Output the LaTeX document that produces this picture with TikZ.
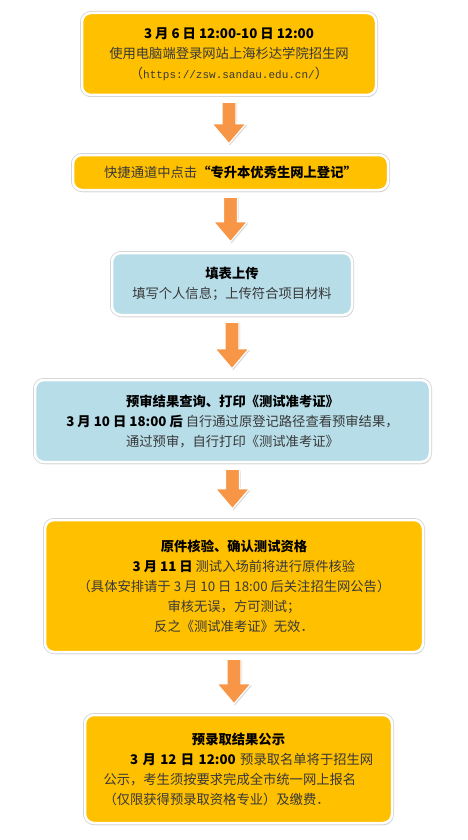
\documentclass[tikz,border=0pt]{standalone}
\usepackage{fontspec}
\setmainfont{Noto Sans CJK SC}
\newfontfamily\urlfont{Liberation Mono}
\usepackage{tikz}
\usetikzlibrary{calc, shadows}
\definecolor{boxyellow}{HTML}{FFC000}
\definecolor{boxblue}{HTML}{B7DDE8}
\definecolor{arroworange}{HTML}{F79646}
\definecolor{bodytext}{HTML}{383838}

\newcommand{\flowarrow}[2]{%
  \path[downarrow] let \p1 = (#1.south), \p2 = (#2.north) in
    (\x1-7pt, \y1-6pt) -- (\x1+7pt, \y1-6pt) -- (\x1+7pt, \y2+30pt)
    -- (\x1+17pt, \y2+30pt) -- (\x1, \y2+10pt) -- (\x1-17pt, \y2+30pt)
    -- (\x1-7pt, \y2+30pt) -- cycle;}

\begin{document}
\begin{tikzpicture}[x=1pt, y=-1pt,
    box/.style={rounded corners=9pt, draw=white, line width=2.5pt,
      drop shadow={shadow xshift=1pt, shadow yshift=-2pt, fill=black!40, opacity=0.5},
      preaction={draw=black!18, line width=4pt},
      align=center, inner sep=0pt, text=bodytext,
      font=\fontsize{13.3}{20}\selectfont},
    downarrow/.style={fill=arroworange, draw=white, line width=1.2pt, line join=miter,
      drop shadow={shadow xshift=1pt, shadow yshift=-1.5pt, fill=black!40, opacity=0.4}}]
    \useasboundingbox[fill=white] (0,0) rectangle (468,840);
    \node[box, fill=boxyellow, minimum width=294pt, minimum height=82pt] (b1) at (229,54)
      {\textcolor{black}{\textbf{3 月 6 日 12:00-10 日 12:00}}\\
       使用电脑端登录网站上海杉达学院招生网\\
       （{\urlfont\fontsize{11}{20}\selectfont https://zsw.sandau.edu.cn/}）};
    \node[box, fill=boxyellow, minimum width=315pt, minimum height=35pt] (b2) at (230.5,172.5)
      {快捷通道中点击\textcolor{black}{\textbf{“专升本优秀生网上登记”}}};
    \node[box, fill=boxblue, minimum width=240pt, minimum height=62pt] (b3) at (232,284)
      {\textcolor{black}{\textbf{填表上传}}\\
       填写个人信息；上传符合项目材料};
    \node[box, fill=boxblue, minimum width=395pt, minimum height=82pt] (b4) at (232.5,421)
      {\textcolor{black}{\textbf{预审结果查询、打印《测试准考证》}}\\
       \textcolor{black}{\textbf{3 月 10 日 18:00 后}} 自行通过原登记路径查看预审结果，\\
       通过预审，自行打印《测试准考证》};
    \node[box, fill=boxyellow, minimum width=378pt, minimum height=132pt] (b5) at (234,586)
      {\textcolor{black}{\textbf{原件核验、确认测试资格}}\\
       \hspace*{1.5em}\textcolor{black}{\textbf{3 月 11 日}} 测试入场前将进行原件核验\\
       （具体安排请于 3 月 10 日 18:00 后关注招生网公告）\\
       审核无误，方可测试；\\
       反之《测试准考证》无效．};
    \node[box, fill=boxyellow, minimum width=307pt, minimum height=108pt,
      text width=270pt, align=left] (b6) at (238.5,769)
      {\makebox[\linewidth]{\textcolor{black}{\textbf{预录取结果公示}}}\\
       \hspace*{2em}\textcolor{black}{\textbf{3 月 12 日 12:00}} 预录取名单将于招生网\\
       公示，考生须按要求完成全市统一网上报名\\
       （仅限获得预录取资格专业）及缴费．};
    \flowarrow{b1}{b2}
    \flowarrow{b2}{b3}
    \flowarrow{b3}{b4}
    \flowarrow{b4}{b5}
    \flowarrow{b5}{b6}
  \end{tikzpicture}
\end{document}
